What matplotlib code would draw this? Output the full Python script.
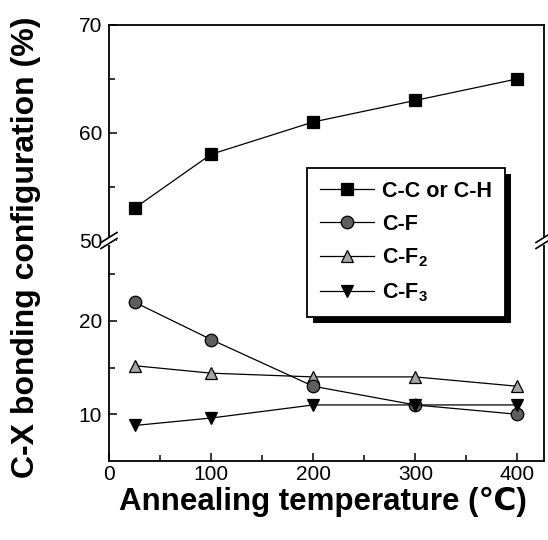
import matplotlib
matplotlib.use("Agg")
import matplotlib.pyplot as plt
from matplotlib.lines import Line2D
from matplotlib.patches import Rectangle
from matplotlib.transforms import IdentityTransform

plt.rcParams['font.family'] = ['Liberation Sans', 'DejaVu Sans']
plt.rcParams['mathtext.fontset'] = 'custom'
plt.rcParams['mathtext.bf'] = 'Liberation Sans:bold'
plt.rcParams['mathtext.rm'] = 'Liberation Sans:bold'

# Annealing temperatures (deg C) and bonding fractions (%)
temperature = [25, 100, 200, 300, 400]
cc_ch = [53, 58, 61, 63, 65]
c_f = [22, 18, 13, 11, 10]
c_f2 = [15.2, 14.4, 14.0, 14.0, 13.0]
c_f3 = [8.8, 9.6, 11.0, 11.0, 11.0]

series_labels = ['C-C or C-H', 'C-F', r'C-F$_\mathbf{2}$', r'C-F$_\mathbf{3}$']

fig = plt.figure(figsize=(5.48, 5.40), dpi=100)
W, H = 548, 540
left, right = 109 / W, 544 / W
top, brk, bottom = 1 - 25 / H, 1 - 240.5 / H, 1 - 461 / H

ax_hi = fig.add_axes([left, brk, right - left, top - brk])
ax_lo = fig.add_axes([left, bottom, right - left, brk - bottom])

styles = [
    dict(marker='s', mfc='black', mec='black'),
    dict(marker='o', mfc='#5e5e5e', mec='black'),
    dict(marker='^', mfc='#a6a6a6', mec='black'),
    dict(marker='v', mfc='black', mec='black'),
]
common = dict(color='black', lw=0.9, ms=9, mew=0.9)

ax_hi.plot(temperature, cc_ch, **styles[0], **common)
for vals, st in zip([c_f2, c_f, c_f3], [styles[2], styles[1], styles[3]]):
    ax_lo.plot(temperature, vals, **st, **common)

xlim = (0, 426)
for ax in (ax_hi, ax_lo):
    ax.set_xlim(*xlim)
    for s in ax.spines.values():
        s.set_linewidth(1.3)
    ax.tick_params(which='both', direction='in', labelsize=15, pad=5,
                   width=1.1, right=False, top=False)
    ax.tick_params(which='major', length=6)
    ax.tick_params(which='minor', length=4)

ax_hi.set_ylim(50, 70)
ax_hi.set_yticks([50, 60, 70])
ax_hi.set_yticks([55, 65], minor=True)
ax_hi.spines['bottom'].set_visible(False)
ax_hi.tick_params(axis='x', which='both', bottom=False, labelbottom=False)

ax_lo.set_ylim(5, 28.6)
ax_lo.set_yticks([10, 20])
ax_lo.set_yticks([15, 25], minor=True)
ax_lo.spines['top'].set_visible(False)
ax_lo.set_xticks([0, 100, 200, 300, 400])
ax_lo.set_xticks([50, 150, 250, 350], minor=True)
ax_lo.tick_params(axis='x', pad=3)

# Axis-break marks on both vertical spines
for xa in (0, 1):
    px, py = ax_hi.transAxes.transform((xa, 0))
    fig.add_artist(Line2D([px - 3, px + 3], [py, py], color='white', lw=5,
                          transform=IdentityTransform(), zorder=10))
    for dy in (-3, 3):
        fig.add_artist(Line2D([px - 8, px + 8], [py + dy - 5, py + dy + 5],
                              color='black', lw=1.2,
                              transform=IdentityTransform(), zorder=11))

handles = [Line2D([], [], **st, **common) for st in styles]
leg = fig.legend(handles, series_labels, loc='upper left',
                 bbox_to_anchor=(307 / W, 1 - 168 / H), borderaxespad=0,
                 prop=dict(weight='bold', size=15.5), handlelength=2.5,
                 labelspacing=0.55, borderpad=0.6, handletextpad=0.4,
                 fancybox=False, framealpha=1, edgecolor='black')
leg.get_frame().set_linewidth(1.3)
leg.set_zorder(20)

fig.canvas.draw()
bb = leg.get_window_extent()
fig.add_artist(Rectangle((bb.x0 + 6, bb.y0 - 6), bb.width, bb.height,
                         facecolor='black', edgecolor='none',
                         transform=IdentityTransform(), zorder=19))

fig.text(323 / W, 1 - 502 / H, 'Annealing temperature (\u2103)',
         ha='center', va='center', fontsize=22.5, fontweight='bold')
fig.text(26 / W, 1 - 247 / H, 'C-X bonding configuration (%)',
         ha='center', va='center', rotation=90, fontsize=23,
         fontweight='bold')

fig.savefig('out.png', dpi=100)
